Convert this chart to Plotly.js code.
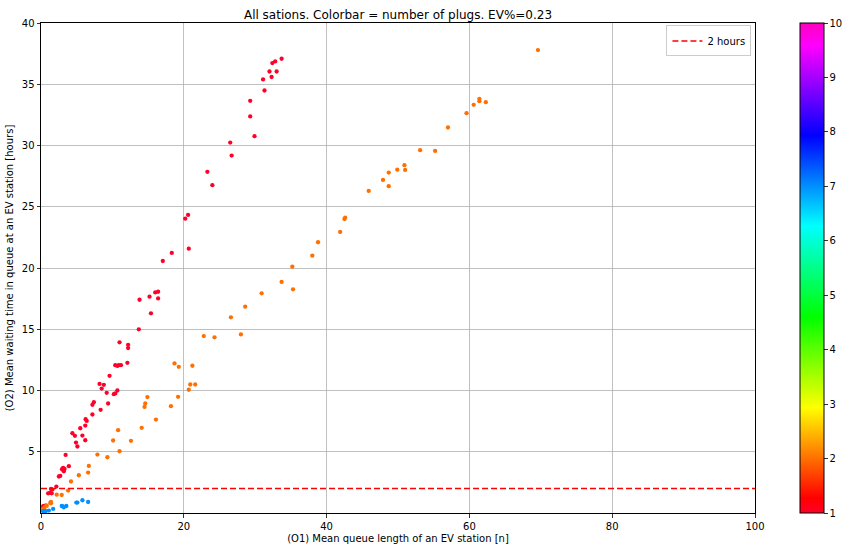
<!DOCTYPE html>
<html>
<head>
<meta charset="utf-8">
<script src="https://cdn.plot.ly/plotly-3.0.1.min.js"></script>
<style>html,body{margin:0;padding:0;background:#fff;}#chart{width:851px;height:550px;}</style>
</head>
<body>
<div id="chart"></div>
<script>
// Stations with 1 plug (red)
const plug1X = [0.1,0.3,0.5,0.65,1.0,1.26,1.5,1.4,1.6,2.15,2.5,2.7,2.94,3.1,3.3,3.2,3.9,3.45,4.4,4.75,4.9,5.1,5.5,5.8,6.2,6.2,6.25,6.4,7.2,7.4,7.2,8.35,8.2,8.8,8.5,9.2,9.4,9.6,10.2,10.4,10.7,10.4,10.7,10.9,11.2,11.0,12.1,12.2,12.2,13.7,13.8,15.2,15.4,16.0,16.4,16.4,17.06,18.32,20.2,20.6,20.7,23.3,24.0,26.5,26.7,29.3,29.3,29.9,31.1,31.3,32.0,32.3,32.4,32.8,33.0,33.7];
const plug1Y = [0.36,0.55,0.57,0.6,1.61,1.64,1.61,1.96,1.91,2.16,2.98,3.03,3.57,3.68,3.6,3.41,3.82,4.74,6.51,6.30,5.75,5.43,6.92,6.32,7.14,5.94,7.66,7.52,8.83,9.05,8.04,8.42,10.54,10.46,10.16,9.81,8.94,11.2,9.70,9.76,10.0,12.07,12.01,12.07,12.07,13.93,12.26,13.73,13.46,14.99,17.41,17.66,16.3,18.01,18.06,17.52,20.57,21.23,24.03,24.33,21.58,27.85,26.76,30.24,29.18,33.65,32.37,30.76,35.39,34.49,36.04,35.59,36.73,36.86,36.04,37.08];
// Stations with 2 plugs (orange)
const plug2X = [0.05,0.28,0.5,0.8,0.75,1.3,1.4,1.4,2.2,2.9,3.8,4.2,5.3,6.6,6.7,7.9,9.3,10.1,10.8,11.0,12.6,14.1,14.5,14.6,14.9,16.1,18.2,18.7,19.2,19.3,20.7,20.9,21.2,21.6,22.8,24.3,26.6,28.0,28.6,30.9,33.7,35.3,35.2,38.0,38.8,41.9,42.5,42.6,45.9,47.9,48.7,48.7,49.9,50.9,51.0,53.1,55.2,57.0,59.6,60.6,61.4,61.4,62.3,69.6];
const plug2Y = [0.22,0.36,0.45,0.6,0.6,0.82,0.90,0.79,1.50,1.47,1.83,2.57,3.08,3.30,3.84,4.77,4.55,5.92,6.76,5.04,5.89,6.95,8.66,8.94,9.46,7.63,8.72,12.21,9.48,11.93,10.06,10.49,12.02,10.49,14.44,14.34,15.97,14.58,16.84,17.93,18.86,18.26,20.11,21.01,22.10,22.94,24.0,24.11,26.29,27.19,27.79,26.68,28.03,28.39,28.01,29.62,29.56,31.47,32.64,33.32,33.81,33.62,33.54,37.79];
// Stations with 7 plugs (blue)
const plug7X = [0.3,0.55,0.65,1.1,1.7,2.9,3.0,3.2,3.55,4.95,5.1,5.8,6.6];
const plug7Y = [0.16,0.16,0.16,0.2,0.33,0.57,0.55,0.47,0.57,0.85,0.85,1.04,0.90];
const plugGroups = [1, 2, 7];
const thresholdHours = 2;
const xTicks = [0,20,40,60,80,100];
const yTicks = [5,10,15,20,25,30,35,40];
const cbTicks = [1,2,3,4,5,6,7,8,9,10];

const gistRainbow = [
  [0.000,'rgb(255,0,41)'],[0.030,'rgb(255,0,0)'],[0.215,'rgb(255,255,0)'],
  [0.400,'rgb(0,255,0)'],[0.586,'rgb(0,255,255)'],[0.770,'rgb(0,0,255)'],
  [0.954,'rgb(255,0,255)'],[1.000,'rgb(255,0,191)']
];

const allX = [], allY = [], allC = [];
[[plug1X,plug1Y,plugGroups[0]],[plug2X,plug2Y,plugGroups[1]],[plug7X,plug7Y,plugGroups[2]]].forEach(g=>{
  g[0].forEach((v,i)=>{allX.push(v); allY.push(g[1][i]); allC.push(g[2]);});
});

const font = {family:'DejaVu Sans, sans-serif', size:10, color:'#000'};

const traces = [
  {
    type:'scatter', mode:'markers', x:allX, y:allY, showlegend:false, hoverinfo:'x+y',
    marker:{size:4.3, color:allC, colorscale:gistRainbow, cmin:1, cmax:10,
      line:{width:0},
      colorbar:{x:800/851, xanchor:'left', xref:'container', y:0.5, yanchor:'middle', yref:'paper', len:1, lenmode:'fraction',
        thickness:24, thicknessmode:'pixels', outlinewidth:1, outlinecolor:'#000',
        tickvals:cbTicks, ticks:'outside', ticklen:3.5, tickwidth:0.8, tickcolor:'#000',
        tickfont:{family:'DejaVu Sans, sans-serif', size:10, color:'#000'}, xpad:0, ypad:0}}
  },
  {
    type:'scatter', mode:'lines', x:[xTicks[0], xTicks[xTicks.length-1]], y:[thresholdHours, thresholdHours],
    name:'2 hours', line:{color:'#ff0000', width:1.5, dash:'6px,3px'}
  }
];

const layout = {
  width:851, height:550,
  margin:{l:41, r:96, t:23, b:37},
  paper_bgcolor:'#fff', plot_bgcolor:'#fff',
  font:font,
  title:{text:'All sations. Colorbar = number of plugs. EV%=0.23', font:{family:'DejaVu Sans, sans-serif', size:12, color:'#000'},
    x:0.5, xref:'paper', xanchor:'center', y:1, yref:'paper', yanchor:'bottom', pad:{b:4}},
  xaxis:{range:[0,100], tickvals:xTicks, ticks:'outside', ticklen:3.5, tickwidth:0.8, tickcolor:'#000',
    showline:true, linecolor:'#000', linewidth:1, mirror:true, showgrid:true, gridcolor:'#b0b0b0', gridwidth:0.8,
    zeroline:false, tickfont:font,
    title:{text:'(O1) Mean queue length of an EV station [n]', font:font, standoff:4}},
  yaxis:{range:[0,40], tickvals:yTicks, ticks:'outside', ticklen:3.5, tickwidth:0.8, tickcolor:'#000',
    showline:true, linecolor:'#000', linewidth:1, mirror:true, showgrid:true, gridcolor:'#b0b0b0', gridwidth:0.8,
    zeroline:false, tickfont:font,
    title:{text:'(O2) Mean waiting time in queue at an EV station [hours]', font:font, standoff:6}},
  showlegend:true,
  legend:{x:0.995, y:0.995, xanchor:'right', yanchor:'top', bgcolor:'rgba(255,255,255,0.8)',
    bordercolor:'#cccccc', borderwidth:1, font:font, itemwidth:30, tracegroupgap:0}
};

Plotly.newPlot('chart', traces, layout, {displayModeBar:false, staticPlot:true});
</script>
</body>
</html>
